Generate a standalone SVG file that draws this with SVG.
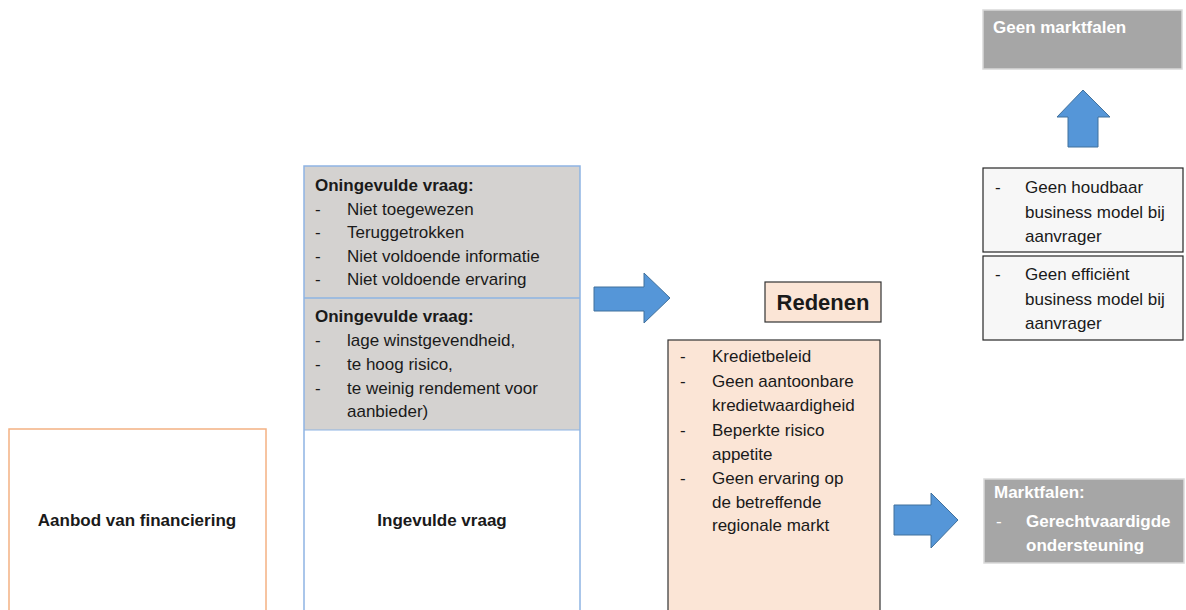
<svg xmlns="http://www.w3.org/2000/svg" width="1186" height="610" viewBox="0 0 1186 610">
<style>
text{font-family:"Liberation Sans",Arial,sans-serif;font-size:17px;fill:#1a1a1a}
.b{font-weight:bold}
.w{fill:#ffffff;font-weight:bold}
.arrow{fill:#5596D8;stroke:#41719C;stroke-width:1}
</style>
<rect width="1186" height="610" fill="#ffffff"/>
<g id="aanbod">
<rect x="9" y="429" width="257" height="185" fill="#ffffff" stroke="#F4B183" stroke-width="1.5"/>
<text x="137" y="526" class="b" text-anchor="middle">Aanbod van financiering</text>
</g>
<g id="vraag">
<rect x="304" y="166" width="276" height="264" fill="#D4D2D0"/>
<rect x="304" y="166" width="276" height="448" fill="none" stroke="#8EB4E3" stroke-width="1.5"/>
<line x1="304" y1="298" x2="580" y2="298" stroke="#8EB4E3" stroke-width="1.5"/>
<line x1="304" y1="430" x2="580" y2="430" stroke="#8EB4E3" stroke-width="1"/>
<text x="315" y="191" class="b">Oningevulde vraag:</text>
<text x="315" y="215">-</text><text x="347" y="215">Niet toegewezen</text>
<text x="315" y="238">-</text><text x="347" y="238">Teruggetrokken</text>
<text x="315" y="262">-</text><text x="347" y="262">Niet voldoende informatie</text>
<text x="315" y="285">-</text><text x="347" y="285">Niet voldoende ervaring</text>
<text x="315" y="322" class="b">Oningevulde vraag:</text>
<text x="315" y="346">-</text><text x="347" y="346">lage winstgevendheid,</text>
<text x="315" y="370">-</text><text x="347" y="370">te hoog risico,</text>
<text x="315" y="394">-</text><text x="347" y="394">te weinig rendement voor</text>
<text x="347" y="417">aanbieder)</text>
<text x="442" y="526" class="b" text-anchor="middle">Ingevulde vraag</text>
</g>
<g id="redenen-titel">
<rect x="765" y="282" width="116" height="40" fill="#FBE5D6" stroke="#333333" stroke-width="1.2"/>
<text x="823" y="310" class="b" text-anchor="middle" style="font-size:22px">Redenen</text>
</g>
<g id="redenen">
<rect x="668" y="340" width="212" height="280" fill="#FBE5D6" stroke="#333333" stroke-width="1.2"/>
<text x="680" y="362">-</text><text x="712" y="362">Kredietbeleid</text>
<text x="680" y="387">-</text><text x="712" y="387">Geen aantoonbare</text>
<text x="712" y="411">kredietwaardigheid</text>
<text x="680" y="436">-</text><text x="712" y="436">Beperkte risico</text>
<text x="712" y="460">appetite</text>
<text x="680" y="484">-</text><text x="712" y="484">Geen ervaring op</text>
<text x="712" y="508">de betreffende</text>
<text x="712" y="531">regionale markt</text>
</g>
<g id="geen-marktfalen">
<rect x="983" y="10" width="199" height="59" fill="#A6A6A6" stroke="#D9D9D9" stroke-width="1.5"/>
<text x="993" y="33" class="w">Geen marktfalen</text>
</g>
<g id="houdbaar">
<rect x="983" y="168" width="200" height="84" fill="#F7F7F7" stroke="#262626" stroke-width="1.2"/>
<text x="995" y="193">-</text><text x="1025" y="193">Geen houdbaar</text>
<text x="1025" y="218">business model bij</text>
<text x="1025" y="242">aanvrager</text>
</g>
<g id="efficient">
<rect x="983" y="256" width="200" height="84" fill="#F7F7F7" stroke="#262626" stroke-width="1.2"/>
<text x="995" y="280">-</text><text x="1025" y="280">Geen efficiënt</text>
<text x="1025" y="305">business model bij</text>
<text x="1025" y="329">aanvrager</text>
</g>
<g id="marktfalen">
<rect x="984" y="479" width="200" height="84" fill="#A6A6A6" stroke="#D9D9D9" stroke-width="1.5"/>
<text x="994" y="498" class="w">Marktfalen:</text>
<text x="996" y="527" style="fill:#ffffff">-</text><text x="1026" y="527" class="w">Gerechtvaardigde</text>
<text x="1026" y="551" class="w">ondersteuning</text>
</g>
<g id="connectors">
<polygon class="arrow" points="594,287 644,287 644,273 670,298 644,323 644,311 594,311"/>
<polygon class="arrow" points="894,505 931,505 931,493 958,520 931,548 931,535 894,535"/>
<polygon class="arrow" points="1068,147 1068,117 1057,117 1083,90 1110,117 1098,117 1098,147"/>
</g>
</svg>
